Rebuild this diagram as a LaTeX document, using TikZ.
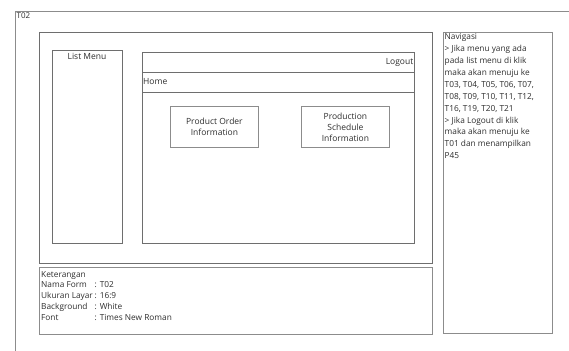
\documentclass[tikz,border=0pt]{standalone}
\usepackage{fontspec}
\setmainfont{Open Sans}
\definecolor{framec}{HTML}{8C8C8C}
\definecolor{darkframe}{HTML}{6E6E6E}
\definecolor{textc}{HTML}{2E2E2E}
\begin{document}
\begin{tikzpicture}[x=1pt,y=-1pt,
  box/.style={draw=framec, line width=0.8pt, anchor=north west, inner sep=0pt, fill=white},
  dbox/.style={box, draw=darkframe},
  lbl/.style={font=\fontsize{8.5}{11}\selectfont, text=textc, inner sep=0pt},
  note/.style={lbl, font=\fontsize{8.3}{10.8}\selectfont, align=left, anchor=north west},
  navnote/.style={note, font=\fontsize{8.3}{11.9}\selectfont}]
\useasboundingbox (0,0) rectangle (569,350);

% page frame (only top and left edges fall inside the sheet)
\coordinate (pageBL) at (15,352);
\coordinate (pageTR) at (571,11);
\draw[framec, line width=0.8pt] (pageBL) |- (pageTR);
\node[lbl, anchor=north west, font=\fontsize{8}{10}\selectfont] (formid) at (16.5,12.5) {T02};

% main screen area
\node[dbox, minimum width=393, minimum height=231] (screen) at (39,32) {};
\node[dbox, minimum width=70, minimum height=193] (menu) at (52,50) {};
\node[lbl, anchor=north] (menutitle) at (87,53.5) {List Menu};

\node[dbox, minimum width=272, minimum height=20] (topbar) at (142,52) {};
\node[lbl, anchor=east] (logout) at (413.5,62) {Logout};
\node[dbox, minimum width=272, minimum height=20] (homebar) at (142,72) {};
\node[lbl, anchor=west] (home) at (143,81.5) {Home};
\node[dbox, minimum width=272, minimum height=151] (content) at (142,92) {};

\node[box, minimum width=88, minimum height=41] (orderbox) at (170,106) {};
\node[lbl, align=center] (ordertext) at (orderbox.center) {Product Order\\Information};
\node[box, minimum width=88, minimum height=41] (schedbox) at (301,106) {};
\node[lbl, align=center] (schedtext) at (schedbox.center) {Production\\Schedule\\Information};

% description panel
\node[box, minimum width=393, minimum height=67] (descbox) at (39,267) {};
\node[note] (desctext) at (41,271) {Keterangan\\
\makebox[53.5pt][l]{Nama Form}: T02\\
\makebox[53.5pt][l]{Ukuran Layar}: 16:9\\
\makebox[53.5pt][l]{Background}: White\\
\makebox[53.5pt][l]{Font}: Times New Roman};

% navigation panel
\node[box, minimum width=109, minimum height=301] (navbox) at (443,32) {};
\node[navnote] (navtext) at (444.5,33.5) {Navigasi\\
> Jika menu yang ada\\
pada list menu di klik\\
maka akan menuju ke\\
T03, T04, T05, T06, T07,\\
T08, T09, T10, T11, T12,\\
T16, T19, T20, T21\\
> Jika Logout di klik\\
maka akan menuju ke\\
T01 dan menampilkan\\
P45};
\end{tikzpicture}
\end{document}
